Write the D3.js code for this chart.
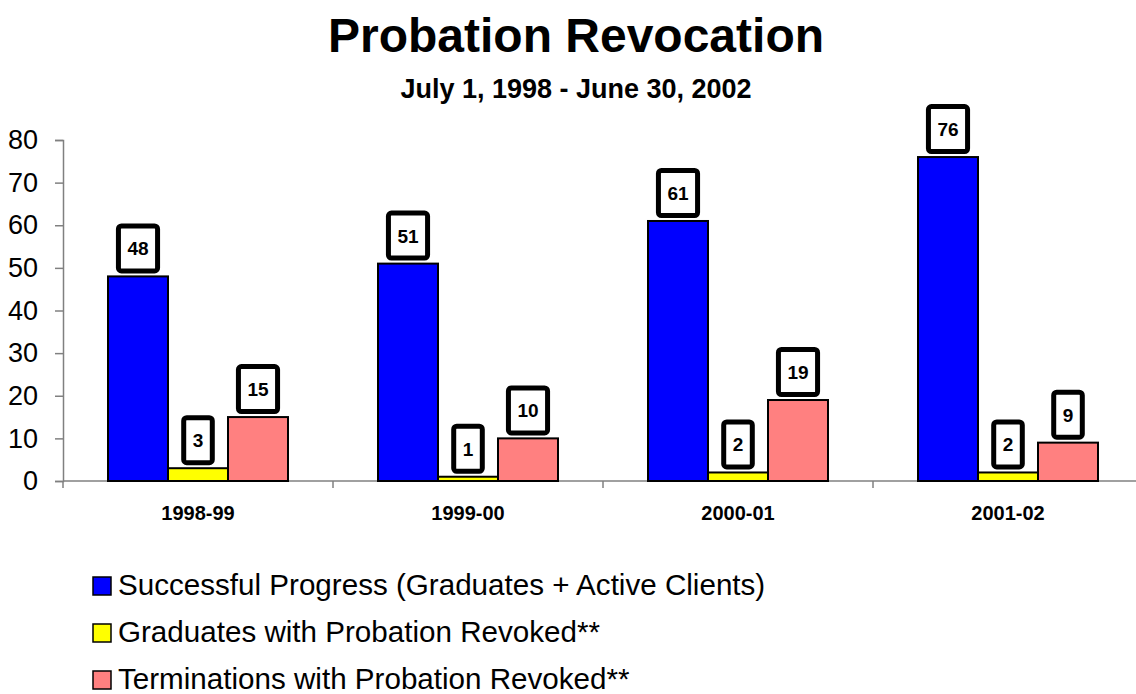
<!DOCTYPE html>
<html>
<head>
<meta charset="utf-8">
<style>
  body { margin: 0; background: #fff; }
  text { font-family: "Liberation Sans", Arial, sans-serif; }
</style>
<script src="https://cdn.jsdelivr.net/npm/d3@7"></script>
</head>
<body>
<div id="chart"></div>
<script>
// data
var years = ["1998-99", "1999-00", "2000-01", "2001-02"];
var seriesNames = [
  "Successful Progress (Graduates + Active Clients)",
  "Graduates with Probation Revoked**",
  "Terminations with Probation Revoked**"
];
var successful = [48, 51, 61, 76];
var graduatesRevoked = [3, 1, 2, 2];
var terminationsRevoked = [15, 10, 19, 9];
var yTicks = [0, 10, 20, 30, 40, 50, 60, 70, 80];
var colors = ["#0000ff", "#ffff00", "#ff8080"];

var allSeries = [successful, graduatesRevoked, terminationsRevoked];

var W = 1136, H = 694;
var svg = d3.select("#chart").append("svg")
    .attr("width", W).attr("height", H);

var plotLeft = 63, plotRight = 1143, plotTop = 140, plotBottom = 481;

var x = d3.scaleBand().domain(years).range([plotLeft, plotRight]);
// bars take the middle two thirds of each category slot
var x1 = d3.scaleBand().domain(d3.range(3)).range([x.bandwidth() / 6, x.bandwidth() * 5 / 6]);
var y = d3.scaleLinear().domain([0, 80]).range([plotBottom, plotTop]);

// title
svg.append("text").attr("x", 576).attr("y", 52).attr("text-anchor", "middle")
    .style("font-size", "48px").style("font-weight", "bold").text("Probation Revocation");
svg.append("text").attr("x", 576).attr("y", 98).attr("text-anchor", "middle")
    .style("font-size", "27px").style("font-weight", "bold").text("July 1, 1998 - June 30, 2002");

// y axis
var yAxis = svg.append("g").attr("transform", "translate(" + plotLeft + ",0)")
    .call(d3.axisLeft(y).tickValues(yTicks).tickSize(8).tickPadding(17));
yAxis.select(".domain").attr("stroke", "#808080").attr("stroke-width", 1.5);
yAxis.selectAll(".tick line").attr("stroke", "#808080").attr("stroke-width", 1.5);
yAxis.selectAll(".tick text").style("font-size", "27px").attr("fill", "#000")
    .style("font-family", "'Liberation Sans', Arial, sans-serif");

// x axis line with ticks between categories
svg.append("line").attr("x1", plotLeft).attr("x2", W).attr("y1", plotBottom).attr("y2", plotBottom)
    .attr("stroke", "#808080").attr("stroke-width", 1.5);
years.forEach(function (yr) {
  svg.append("line").attr("x1", x(yr)).attr("x2", x(yr))
      .attr("y1", plotBottom).attr("y2", plotBottom + 7)
      .attr("stroke", "#808080").attr("stroke-width", 1.5);
});
svg.selectAll(".cat").data(years).enter().append("text")
    .attr("x", function (d) { return x(d) + x.bandwidth() / 2; })
    .attr("y", 520).attr("text-anchor", "middle")
    .style("font-size", "20px").style("font-weight", "bold").text(function (d) { return d; });

// bars
var groups = svg.selectAll(".grp").data(years).enter().append("g")
    .attr("transform", function (d) { return "translate(" + x(d) + ",0)"; });

groups.each(function (yr, i) {
  var g = d3.select(this);
  allSeries.forEach(function (s, k) {
    var v = s[i];
    g.append("rect")
        .attr("x", x1(k)).attr("width", x1.bandwidth())
        .attr("y", y(v)).attr("height", plotBottom - y(v))
        .attr("fill", colors[k]).attr("stroke", "#000").attr("stroke-width", 2);
  });
});

// value labels in boxes
groups.each(function (yr, i) {
  var g = d3.select(this);
  allSeries.forEach(function (s, k) {
    var v = s[i];
    var cx = x1(k) + x1.bandwidth() / 2;
    var t = g.append("text").attr("x", cx).attr("text-anchor", "middle")
        .style("font-size", "19px").style("font-weight", "bold").text(v);
    var tw = t.node().getComputedTextLength();
    var bw = tw + 18, bh = 45;
    var bottom = y(v) - 5.5;
    g.insert("rect", "text")
        .attr("x", cx - bw / 2).attr("y", bottom - bh)
        .attr("width", bw).attr("height", bh)
        .attr("rx", 3).attr("fill", "#fff").attr("stroke", "#000").attr("stroke-width", 5);
    t.attr("y", bottom - bh / 2 + 7);
  });
});

// legend
var legend = svg.selectAll(".leg").data(seriesNames).enter().append("g")
    .attr("transform", function (d, i) { return "translate(92," + (576 + i * 47) + ")"; });
legend.append("rect").attr("x", 1).attr("y", 1).attr("width", 18).attr("height", 18)
    .attr("fill", function (d, i) { return colors[i]; })
    .attr("stroke", "#000").attr("stroke-width", 1.5);
legend.append("text").attr("x", 26).attr("y", 19)
    .style("font-size", "29.6px").text(function (d) { return d; });
</script>
</body>
</html>
